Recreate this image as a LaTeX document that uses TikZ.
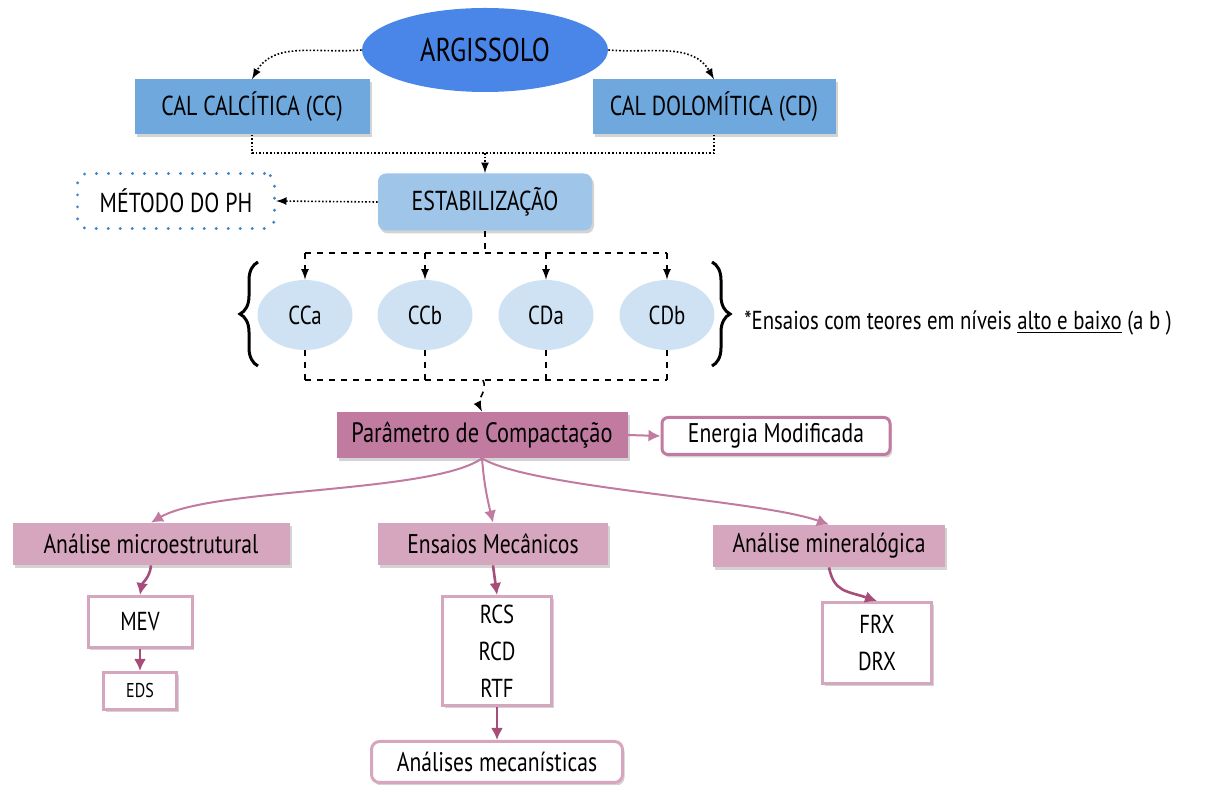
\documentclass[tikz,border=0pt]{standalone}
\usepackage{fontspec}
\setmainfont{PT Sans}[FakeStretch=0.8]
\usetikzlibrary{shapes.geometric,shadows,decorations.pathreplacing,arrows.meta}

\definecolor{argblue}{RGB}{74,134,232}
\definecolor{calblue}{RGB}{111,168,220}
\definecolor{estblue}{RGB}{159,197,232}
\definecolor{dotblue}{RGB}{61,133,198}
\definecolor{pale}{RGB}{207,226,243}
\definecolor{rose}{RGB}{194,123,160}
\definecolor{lightrose}{RGB}{213,166,189}
\definecolor{darkrose}{RGB}{166,77,121}

\begin{document}
\begin{tikzpicture}[->,>=latex,x=0.5pt,y=-0.5pt,
  shade/.style={drop shadow={opacity=0.35,shadow xshift=1pt,shadow yshift=-1.5pt}},
  calbox/.style={rectangle,fill=calblue,inner sep=0pt,minimum height=27.5pt,shade,font=\fontsize{13.7}{16}\selectfont},
  pinkbox/.style={rectangle,fill=lightrose,inner sep=0pt,minimum height=21pt,shade,font=\fontsize{13.5}{16}\selectfont},
  whitebox/.style={rectangle,fill=white,draw=lightrose,line width=1.5pt,inner sep=0pt,shade,align=center,font=\fontsize{13}{18.5}\selectfont},
  oval/.style={ellipse,fill=pale,inner sep=0pt,minimum width=47.5pt,minimum height=35pt,font=\fontsize{13}{15}\selectfont},
  dots/.style={densely dotted,thick},
  dashline/.style={dashed,thick},
  roseline/.style={draw=rose,line width=1pt,-{Latex[length=6pt,width=6pt]}},
  darkline/.style={draw=darkrose,line width=1.3pt,-{Latex[length=6pt,width=6pt]}}]

\useasboundingbox (0,0) rectangle (1211,785);

\node [ellipse,fill=argblue,inner sep=0pt,minimum width=123pt,minimum height=42pt,font=\fontsize{16.5}{18}\selectfont] (arg) at (485,50) {ARGISSOLO};
\node [calbox,minimum width=117.5pt] (cc) at (252,107) {CAL CALCÍTICA (CC)};
\node [calbox,minimum width=121.5pt] (cd) at (714,107) {CAL DOLOMÍTICA (CD)};
\node [calbox,fill=estblue,rounded corners=4pt,minimum width=107pt,minimum height=28.5pt] (est) at (485,202) {ESTABILIZAÇÃO};
\node [rectangle,rounded corners=5pt,draw=dotblue,line width=1.6pt,dash pattern=on 0pt off 6pt,line cap=round,inner sep=0pt,minimum width=98.5pt,minimum height=27.5pt,font=\fontsize{13.7}{16}\selectfont] (ph) at (176,201) {MÉTODO DO PH};

\node [oval] (cca) at (305,315) {CCa};
\node [oval] (ccb) at (425,315) {CCb};
\node [oval] (cda) at (546,315) {CDa};
\node [oval] (cdb) at (667,315) {CDb};
\node [anchor=west,inner sep=0pt,font=\fontsize{13}{15}\selectfont] (note) at (744,323) {*Ensaios com teores em níveis \underline{alto e baixo} (a b )};

\node [pinkbox,fill=rose,minimum width=145.5pt,minimum height=23pt,font=\fontsize{14}{16}\selectfont] (pc) at (482,435) {Parâmetro de Compactação};
\node [whitebox,draw=rose,rounded corners=3pt,minimum width=114pt,minimum height=18.5pt,font=\fontsize{13.5}{16}\selectfont] (en) at (776,436) {Energia Modificada};

\node [pinkbox,minimum width=138.5pt] (am) at (151,544) {Análise microestrutural};
\node [pinkbox,minimum width=115pt] (em) at (493,544) {Ensaios Mecânicos};
\node [pinkbox,minimum width=116pt] (amin) at (829,546) {Análise mineralógica};

\node [whitebox,minimum width=52pt,minimum height=25.5pt] (mev) at (140,622) {MEV};
\node [whitebox,minimum width=36.5pt,minimum height=18.5pt,font=\fontsize{10}{12}\selectfont] (eds) at (140,691) {EDS};
\node [whitebox,minimum width=54.5pt,minimum height=54.5pt] (rc) at (497,651) {RCS\\RCD\\RTF};
\node [whitebox,rounded corners=4pt,minimum width=125.5pt,minimum height=20.5pt,font=\fontsize{13.5}{16}\selectfont] (anm) at (497,762) {Análises mecanísticas};
\node [whitebox,minimum width=54.5pt,minimum height=40.5pt] (frx) at (877,643) {FRX\\DRX};

% top part
\draw [dots] (arg.west) to[out=185,in=60] (cc.north);
\draw [dots] (arg.east) to[out=-5,in=120] (cd.north);
\coordinate (j1) at (485,153);
\draw [dots,-] (cc.south) |- (j1) -| (cd.south);
\draw [dots] (j1) -- (est.north);
\draw [dots] (est.west) -- (ph.east);

% lime contents
\coordinate (j2) at (485,253);
\draw [dashline,-] (est.south) -- (j2);
\draw [dashline,-] (cca.north |- j2) -- (cdb.north |- j2);
\foreach \n in {cca,ccb,cda,cdb}
  \draw [dashline] (\n.north |- j2) -- (\n.north);
\coordinate (j3) at (483,380);
\foreach \n in {cca,ccb,cda,cdb}
  \draw [dashline,-] (\n.south) -- (\n.south |- j3);
\draw [dashline,-] (cca.south |- j3) -- (cdb.south |- j3);
\draw [dashline] (j3) .. controls +(5,10) and +(-5,-10) .. (pc.north);

\draw [-,line width=1.5pt,decorate,decoration={brace,amplitude=9pt}] (258,366) -- (258,262);
\draw [-,line width=1.5pt,decorate,decoration={brace,amplitude=9pt}] (712,262) -- (712,366);

% compaction branches
\draw [roseline] (pc.east) -- (en.west);
\draw [roseline] (pc.south) .. controls +(-50,35) and +(60,-35) .. (am.north);
\draw [roseline] (pc.south) .. controls +(2,25) and +(-6,-25) .. (em.north);
\draw [roseline] (pc.south) .. controls +(50,30) and +(-70,-25) .. (amin.north);

\draw [darkline] (am.south) to[out=-95,in=80] (mev.north);
\draw [darkline] (mev.south) -- (eds.north);
\draw [darkline] (em.south) -- (rc.north);
\draw [darkline] (rc.south) -- (anm.north);
\draw [darkline] (amin.south) .. controls +(5,25) and +(-30,-10) .. (frx.north);

\end{tikzpicture}
\end{document}
